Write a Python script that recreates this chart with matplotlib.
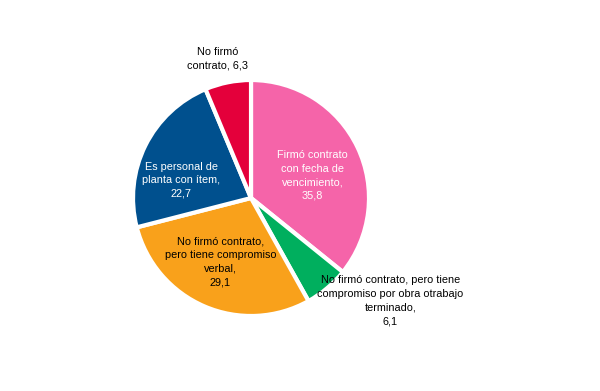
import matplotlib
matplotlib.use("Agg")
import matplotlib.pyplot as plt

plt.rcParams['font.family'] = ['Liberation Sans', 'DejaVu Sans']

# --- data ---
labels = [
    "Firmó contrato\ncon fecha de\nvencimiento,\n35,8",
    "No firmó contrato, pero tiene\ncompromiso por obra otrabajo\nterminado,\n6,1",
    "No firmó contrato,\npero tiene compromiso\nverbal,\n29,1",
    "Es personal de\nplanta con ítem,\n22,7",
    "No firmó\ncontrato, 6,3",
]
values = [35.8, 6.1, 29.1, 22.7, 6.3]
colors = ["#F564A9", "#00AF5E", "#F9A11B", "#00508E", "#E4003B"]
text_colors = ["white", "black", "black", "white", "black"]
# label positions in axes data units (pie radius = 1)
label_pos = [(0.52, 0.19), (1.18, -0.87), (-0.26, -0.54), (-0.59, 0.15), (-0.28, 1.18)]

fig = plt.figure(figsize=(6, 3.91), dpi=100)
ax = fig.add_axes([0.2217, 0.1918, 0.3933, 0.6036])

ax.pie(values, colors=colors, startangle=90, counterclock=False, radius=1,
       wedgeprops=dict(edgecolor='white', linewidth=3))

for lab, (x, y), c in zip(labels, label_pos, text_colors):
    ax.text(x, y, lab, ha='center', va='center', fontsize=7.8, color=c,
            linespacing=1.45)

ax.set_xlim(-1, 1)
ax.set_ylim(-1, 1)
ax.set_aspect('equal')
ax.axis('off')

fig.savefig("out.png", dpi=100)
